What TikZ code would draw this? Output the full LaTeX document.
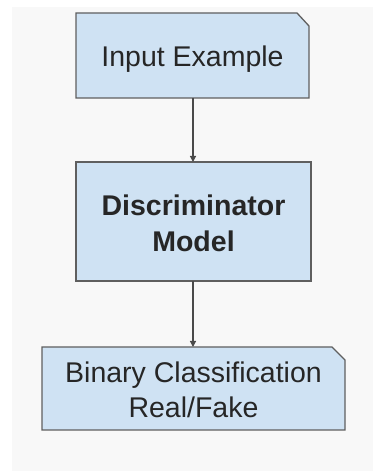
\documentclass[tikz,border=0pt]{standalone}
\usepackage{fontspec}
\setmainfont{Liberation Sans}
\usetikzlibrary{arrows.meta}
\definecolor{boxfill}{HTML}{CFE2F3}
\definecolor{boxline}{HTML}{5F5F5F}
\definecolor{canvas}{HTML}{F8F8F8}
\definecolor{wire}{HTML}{4A4A4A}
\begin{document}
\begin{tikzpicture}[x=1pt,y=1pt,
  boxstyle/.style={fill=boxfill,draw=boxline,line width=1.3pt,line join=miter},
  label/.style={font=\fontsize{28.5}{35}\selectfont,align=center,text=black!85},
  flow/.style={draw=wire,line width=1.2pt,-{Triangle[length=6pt,width=6pt]}}]
  % page and backdrop
  \fill[white] (0,0) rectangle (373,471);
  \useasboundingbox (0,0) rectangle (373,471);
  \fill[canvas] (12,0) rectangle (373,464);
  % top box with clipped corner
  \draw[boxstyle] (76,373) -- (76,458) -- (297,458) -- (309,445) -- (309,373) -- cycle;
  \coordinate (inTop) at (193,373);
  \node[label] (inp) at (192.5,412) {Input Example};
  % middle box
  \draw[boxstyle] (76,190) rectangle (311,309);
  \coordinate (dTop) at (193,309);
  \coordinate (dBot) at (193,190);
  \node[label,font=\fontsize{28.5}{36}\selectfont\bfseries] (disc) at (193.5,248) {Discriminator\\Model};
  % bottom box with clipped corner
  \draw[boxstyle] (42,41) -- (42,124) -- (332,124) -- (345,111) -- (345,41) -- cycle;
  \coordinate (outTop) at (193,124);
  \node[label] (out) at (193.5,81) {Binary Classification\\Real/Fake};
  % connectors
  \draw[flow] (inTop) -- (dTop);
  \draw[flow] (dBot) -- (outTop);
\end{tikzpicture}
\end{document}
